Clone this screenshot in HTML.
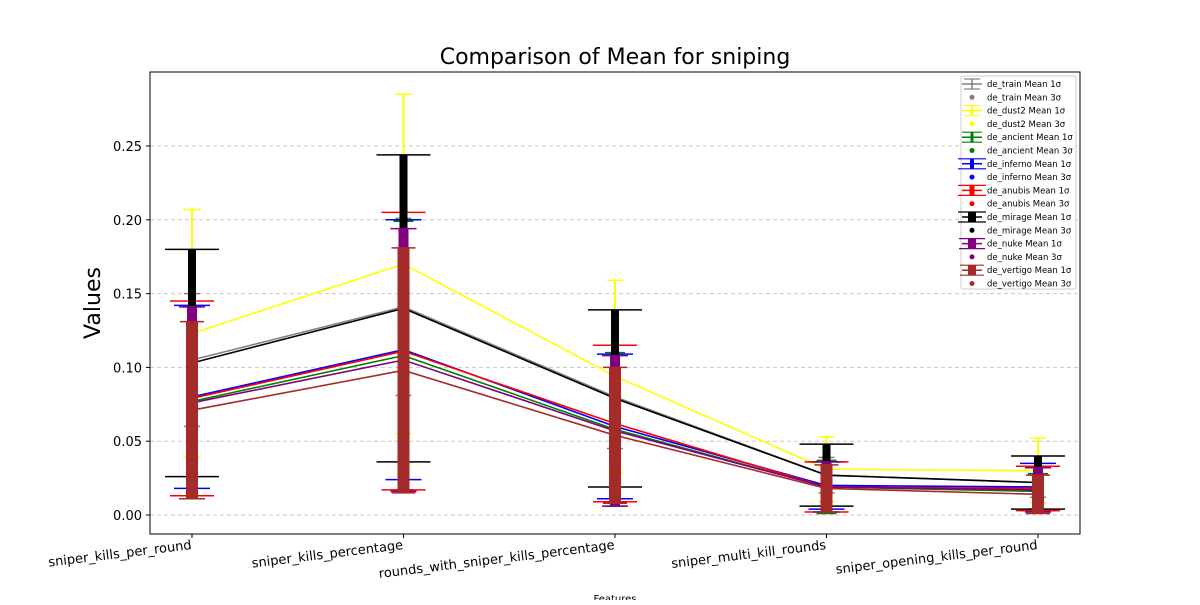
<!DOCTYPE html>
<html><head><meta charset="utf-8"><style>
body{margin:0;background:#fff;font-family:"Liberation Sans","DejaVu Sans",sans-serif;}
svg text{font-family:"DejaVu Sans","Liberation Sans",sans-serif;}
</style></head><body>
<svg id="chart" width="1200" height="600" xmlns="http://www.w3.org/2000/svg">
<rect width="1200" height="600" fill="#fff"/>
<text x="615" y="64" text-anchor="middle" font-size="22">Comparison of Mean for sniping</text>
<text transform="translate(100,303) rotate(-90)" text-anchor="middle" font-size="22">Values</text>
<text x="615" y="602" text-anchor="middle" font-size="10">Features</text>
<g id="grid"></g><g id="marks"></g><g id="axes"></g><g id="legend"></g>
</svg>
<script>
const categories=["sniper_kills_per_round","sniper_kills_percentage","rounds_with_sniper_kills_percentage","sniper_multi_kill_rounds","sniper_opening_kills_per_round"];
const seriesNames=["de_train","de_dust2","de_ancient","de_inferno","de_anubis","de_mirage","de_nuke","de_vertigo"];
const trainMean=[0.105,0.141,0.080,0.027,0.022];
const trainStd=[0.045,0.060,0.035,0.012,0.010];
const dust2Mean=[0.123,0.170,0.094,0.031,0.030];
const dust2Std=[0.084,0.115,0.065,0.022,0.022];
const ancientMean=[0.077,0.108,0.058,0.019,0.016];
const ancientStd=[0.064,0.091,0.052,0.018,0.012];
const infernoMean=[0.080,0.112,0.060,0.020,0.019];
const infernoStd=[0.062,0.088,0.049,0.016,0.016];
const anubisMean=[0.079,0.111,0.062,0.019,0.018];
const anubisStd=[0.066,0.094,0.053,0.017,0.015];
const mirageMean=[0.103,0.140,0.079,0.027,0.022];
const mirageStd=[0.077,0.104,0.060,0.021,0.018];
const nukeMean=[0.076,0.105,0.057,0.019,0.017];
const nukeStd=[0.065,0.089,0.051,0.017,0.015];
const vertigoMean=[0.071,0.098,0.054,0.018,0.014];
const vertigoStd=[0.060,0.083,0.046,0.016,0.013];
const yTicks=[0,0.05,0.10,0.15,0.20,0.25];
const yTickLabels=["0.00","0.05","0.10","0.15","0.20","0.25"];

const means=[trainMean,dust2Mean,ancientMean,infernoMean,anubisMean,mirageMean,nukeMean,vertigoMean];
const stds=[trainStd,dust2Std,ancientStd,infernoStd,anubisStd,mirageStd,nukeStd,vertigoStd];
const colors=["gray","yellow","green","blue","red","black","purple","brown"];
const elw=[1.5,2,3,4,5,8,10,12];
const caps=[8,8,10,18,22,27,13,12];
const L=150,R=1080,T=72,B=534;
const y=v=>515-v*1476;
const x=i=>192+i*211.5;
const NS="http://www.w3.org/2000/svg";
function mk(tag,attrs,parent){const e=document.createElementNS(NS,tag);for(const k in attrs)e.setAttribute(k,attrs[k]);parent.appendChild(e);return e;}
const grid=document.getElementById('grid'),marks=document.getElementById('marks'),axes=document.getElementById('axes'),legend=document.getElementById('legend');
yTicks.forEach((t,i)=>{
  const g=mk('line',{x1:L,x2:R,y1:y(t),y2:y(t),stroke:'#c8c8c8','stroke-dasharray':'4,3','stroke-width':1},grid);
  
  
  mk('line',{x1:L-4,x2:L,y1:y(t),y2:y(t),stroke:'#000'},axes);
  const tx=mk('text',{x:L-8,y:y(t)+5,'text-anchor':'end','font-size':13},axes);
  tx.textContent=yTickLabels[i];
  
  
});
categories.forEach((c,i)=>{
  mk('line',{x1:x(i),x2:x(i),y1:B,y2:B+4,stroke:'#000'},axes);
  const tx=mk('text',{x:0,y:0,'text-anchor':'end','font-size':13,transform:`translate(${x(i)},${B+15}) rotate(-7)`},axes);
  tx.textContent=c;
  
  
});
const frame=mk('rect',{x:L,y:T,width:R-L,height:B-T,fill:'none',stroke:'#000','stroke-width':1},axes);


means.forEach((m,s)=>{
  const g=mk('g',{},marks);
  
  
  m.forEach((v,i)=>{
    const hi=y(v+stds[s][i]),lo=y(v-stds[s][i]);
    const eb=mk('line',{x1:x(i),x2:x(i),y1:hi,y2:lo,stroke:colors[s],'stroke-width':elw[s]},g);
    
    
    [hi,lo].forEach(yy=>mk('line',{x1:x(i)-caps[s],x2:x(i)+caps[s],y1:yy,y2:yy,stroke:colors[s],'stroke-width':1.5},g));
  });
  const pl=mk('polyline',{points:m.map((v,i)=>x(i)+','+y(v)).join(' '),fill:'none',stroke:colors[s],'stroke-width':1.6},g);
  
  
  m.forEach((v,i)=>{
    const c=mk('circle',{cx:x(i),cy:y(v),r:2.5,fill:colors[s]},g);
    
    
  });
});
const lb=mk('rect',{x:961,y:76,width:115,height:213,fill:'#fff','fill-opacity':0.85,stroke:'#ccc',rx:2},legend);


seriesNames.forEach((n,s)=>{
  const y1=84+s*26.6,y2=y1+13.3;
  const sym=mk('g',{},legend);
  
  
  const cx=972,cw=Math.min(caps[s],14);
  mk('line',{x1:cx-10,x2:cx+10,y1:y1,y2:y1,stroke:colors[s],'stroke-width':1.5},sym);
  mk('line',{x1:cx,x2:cx,y1:y1-5,y2:y1+5,stroke:colors[s],'stroke-width':Math.min(elw[s],8)},sym);
  [y1-5,y1+5].forEach(yy=>mk('line',{x1:cx-cw,x2:cx+cw,y1:yy,y2:yy,stroke:colors[s],'stroke-width':1.2},sym));
  const t1=mk('text',{x:987,y:y1+3,'font-size':8.5},sym);t1.textContent=n+' Mean 1σ';
  const e2=mk('g',{},legend);
  
  
  mk('circle',{cx:cx,cy:y2,r:2.5,fill:colors[s]},e2);
  const t2=mk('text',{x:987,y:y2+3,'font-size':8.5},e2);t2.textContent=n+' Mean 3σ';
});
</script>
</body></html>
